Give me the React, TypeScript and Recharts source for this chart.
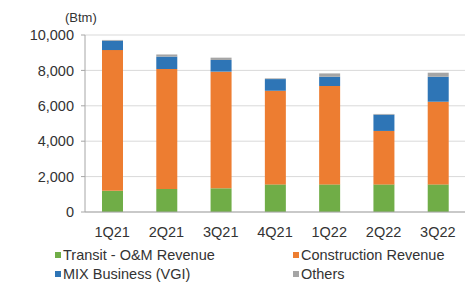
import { BarChart, Bar, XAxis, YAxis, CartesianGrid } from 'recharts';

const quarters = ['1Q21', '2Q21', '3Q21', '4Q21', '1Q22', '2Q22', '3Q22'];
const transitRevenue = [1200, 1300, 1340, 1560, 1560, 1560, 1560];
const constructionRevenue = [7950, 6780, 6590, 5290, 5560, 3020, 4670];
const mixBusiness = [530, 700, 660, 660, 520, 920, 1410];
const others = [40, 120, 130, 40, 190, 40, 230];
const yTicks = [0, 2000, 4000, 6000, 8000, 10000];

const series = [
  { key: 'transit', name: 'Transit - O&M Revenue', color: '#70ad47' },
  { key: 'construction', name: 'Construction Revenue', color: '#ed7d31' },
  { key: 'mix', name: 'MIX Business (VGI)', color: '#2e75b6' },
  { key: 'others', name: 'Others', color: '#a5a5a5' },
];

const data = quarters.map((q, i) => ({
  quarter: q,
  transit: transitRevenue[i],
  construction: constructionRevenue[i],
  mix: mixBusiness[i],
  others: others[i],
}));

const font = 'Liberation Sans, Arial, sans-serif';

const App = () => {
  return (
    <div style={{ position: 'absolute', left: 0, top: 0, width: 475, height: 284, background: '#fff' }}>
      <div style={{ position: 'absolute', left: 65, top: 10, fontFamily: font, fontSize: 13, color: '#333' }}>(Btm)</div>
      <BarChart width={475} height={284} data={data} margin={{ top: 35, right: 10, bottom: 42, left: 0 }}>
        <CartesianGrid vertical={false} stroke="#d9d9d9" />
        <XAxis
          dataKey="quarter"
          height={30}
          tickLine={false}
          tickSize={0}
          tickMargin={15}
          stroke="#a6a6a6"
          tick={{ fill: '#333', fontSize: 14.5, fontFamily: font }}
        />
        <YAxis
          width={85}
          domain={[0, 10000]}
          ticks={yTicks}
          tickSize={4}
          tickMargin={7}
          stroke="#a6a6a6"
          tickFormatter={(v: number) => v.toLocaleString('en-US')}
          tick={{ fill: '#333', fontSize: 14.5, fontFamily: font }}
        />
        {series.map((s) => (
          <Bar key={s.key} dataKey={s.key} name={s.name} stackId="a" fill={s.color} barSize={21} isAnimationActive={false} />
        ))}
      </BarChart>
      {series.map((s, i) => (
        <div
          key={s.key}
          style={{
            position: 'absolute',
            left: i % 2 === 0 ? 55 : 293,
            top: i < 2 ? 246 : 265,
            display: 'flex',
            alignItems: 'center',
            whiteSpace: 'nowrap',
            lineHeight: '18px',
            fontFamily: font,
            fontSize: 14.5,
            color: '#333',
          }}
        >
          <span style={{ width: 6, height: 6, background: s.color, marginRight: 2, display: 'inline-block' }} />
          {s.name}
        </div>
      ))}
    </div>
  );
};

export default App;
